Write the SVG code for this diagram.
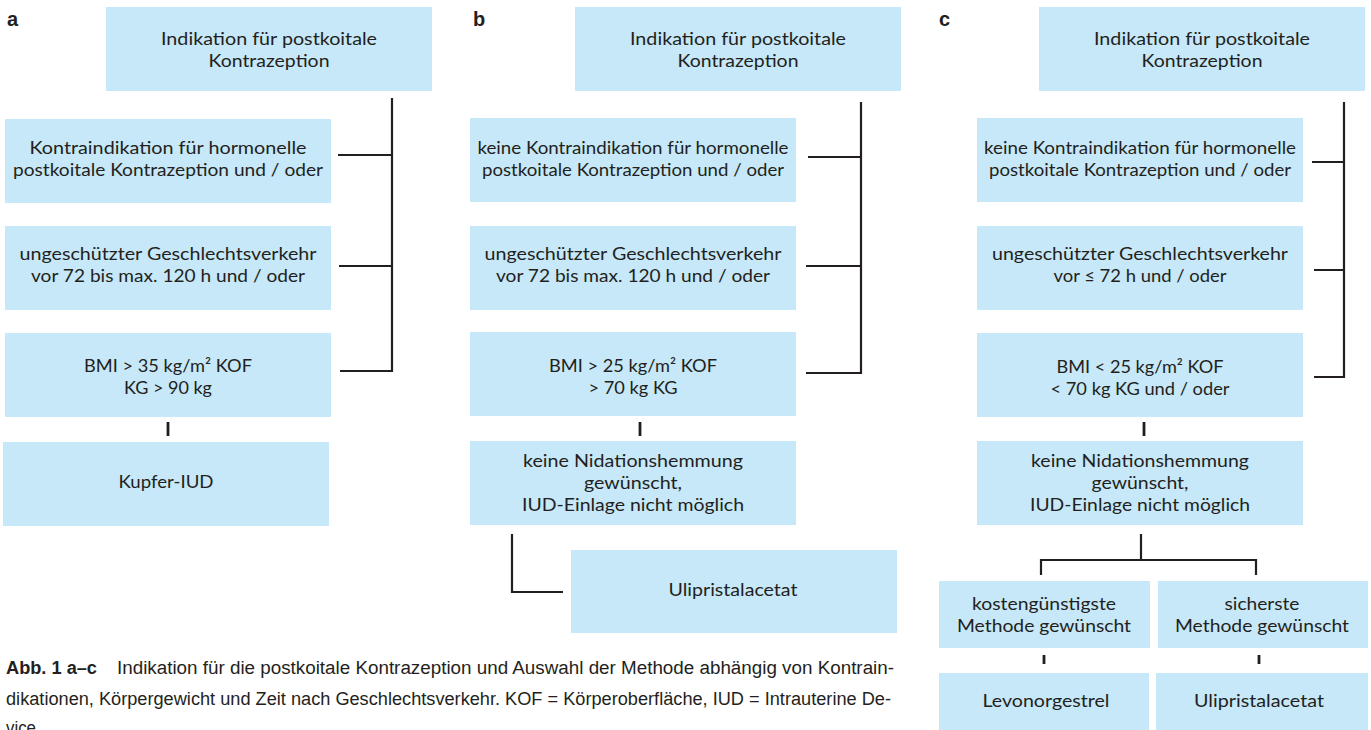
<svg xmlns="http://www.w3.org/2000/svg" width="1371" height="730" viewBox="0 0 1371 730">
<style>
.box{fill:#c6e8f8;}
.t{font-family:Lato,"Open Sans","Liberation Sans",sans-serif;font-size:17.5px;fill:#231f20;text-anchor:middle;}
.lbl{font-family:"Liberation Sans",sans-serif;font-size:20px;font-weight:bold;fill:#231f20;}
.cap{font-family:"Liberation Sans",sans-serif;font-size:18px;fill:#231f20;}
.capb{font-family:"Liberation Sans",sans-serif;font-size:18px;font-weight:bold;fill:#231f20;}
.ln{fill:none;stroke:#231f20;stroke-width:2.2;}
.tk{fill:none;stroke:#231f20;stroke-width:2.8;}
</style>
<rect width="1371" height="730" fill="#ffffff"/>
<text class="lbl" x="7" y="26">a</text>
<text class="lbl" x="473" y="26">b</text>
<text class="lbl" x="939" y="26">c</text>

<g id="connectors">
<path class="ln" d="M392,98 V371 H340 M338,155 H392 M339,266 H392"/>
<path class="tk" d="M168,422 V436"/>
<path class="ln" d="M861,102 V373 H806 M808,157 H861 M806,266 H861"/>
<path class="tk" d="M640,422 V436"/>
<path class="ln" d="M512,534 V592 H563"/>
<path class="ln" d="M1344,102 V377 H1314 M1312,162 H1344 M1314,270 H1344"/>
<path class="tk" d="M1144,422 V436"/>
<path class="ln" d="M1141,534 V560 M1041,575 V560 H1256 V575"/>
<path class="tk" d="M1044,655 V664 M1259,655 V664"/>
</g>

<g id="a-top"><rect class="box" x="106" y="7" width="326" height="84"/>
<text class="t" x="269" y="45" textLength="216" lengthAdjust="spacingAndGlyphs">Indikation für postkoitale</text>
<text class="t" x="269" y="67" textLength="121" lengthAdjust="spacingAndGlyphs">Kontrazeption</text></g>
<g id="a-kontra"><rect class="box" x="5" y="119" width="326" height="84"/>
<text class="t" x="168" y="154" textLength="277" lengthAdjust="spacingAndGlyphs">Kontraindikation für hormonelle</text>
<text class="t" x="168" y="176" textLength="310" lengthAdjust="spacingAndGlyphs">postkoitale Kontrazeption und / oder</text></g>
<g id="a-gv"><rect class="box" x="5" y="226" width="326" height="84"/>
<text class="t" x="168" y="260" textLength="297" lengthAdjust="spacingAndGlyphs">ungeschützter Geschlechtsverkehr</text>
<text class="t" x="168" y="282" textLength="274" lengthAdjust="spacingAndGlyphs">vor 72 bis max. 120 h und / oder</text></g>
<g id="a-bmi"><rect class="box" x="5" y="333" width="326" height="84"/>
<text class="t" x="168" y="372" textLength="168" lengthAdjust="spacingAndGlyphs">BMI &gt; 35 kg/m² KOF</text>
<text class="t" x="168" y="394" textLength="88" lengthAdjust="spacingAndGlyphs">KG &gt; 90 kg</text></g>
<g id="a-iud"><rect class="box" x="3" y="442" width="326" height="84"/>
<text class="t" x="166" y="488" textLength="95" lengthAdjust="spacingAndGlyphs">Kupfer-IUD</text></g>

<g id="b-top"><rect class="box" x="575" y="7" width="326" height="84"/>
<text class="t" x="738" y="45" textLength="216" lengthAdjust="spacingAndGlyphs">Indikation für postkoitale</text>
<text class="t" x="738" y="67" textLength="121" lengthAdjust="spacingAndGlyphs">Kontrazeption</text></g>
<g id="b-kontra"><rect class="box" x="470" y="118" width="326" height="84"/>
<text class="t" x="633" y="154" textLength="311" lengthAdjust="spacingAndGlyphs">keine Kontraindikation für hormonelle</text>
<text class="t" x="633" y="176" textLength="302" lengthAdjust="spacingAndGlyphs">postkoitale Kontrazeption und / oder</text></g>
<g id="b-gv"><rect class="box" x="470" y="226" width="326" height="84"/>
<text class="t" x="633" y="260" textLength="297" lengthAdjust="spacingAndGlyphs">ungeschützter Geschlechtsverkehr</text>
<text class="t" x="633" y="282" textLength="274" lengthAdjust="spacingAndGlyphs">vor 72 bis max. 120 h und / oder</text></g>
<g id="b-bmi"><rect class="box" x="470" y="332" width="326" height="84"/>
<text class="t" x="633" y="372" textLength="168" lengthAdjust="spacingAndGlyphs">BMI &gt; 25 kg/m² KOF</text>
<text class="t" x="633" y="394" textLength="89" lengthAdjust="spacingAndGlyphs">&gt; 70 kg KG</text></g>
<g id="b-nida"><rect class="box" x="470" y="441" width="326" height="84"/>
<text class="t" x="633" y="467" textLength="220" lengthAdjust="spacingAndGlyphs">keine Nidationshemmung</text>
<text class="t" x="633" y="489" textLength="98" lengthAdjust="spacingAndGlyphs">gewünscht,</text>
<text class="t" x="633" y="511" textLength="222" lengthAdjust="spacingAndGlyphs">IUD-Einlage nicht möglich</text></g>
<g id="b-upa"><rect class="box" x="571" y="550" width="326" height="83"/>
<text class="t" x="733" y="596" textLength="129" lengthAdjust="spacingAndGlyphs">Ulipristalacetat</text></g>

<g id="c-top"><rect class="box" x="1039" y="7" width="326" height="84"/>
<text class="t" x="1202" y="45" textLength="216" lengthAdjust="spacingAndGlyphs">Indikation für postkoitale</text>
<text class="t" x="1202" y="67" textLength="121" lengthAdjust="spacingAndGlyphs">Kontrazeption</text></g>
<g id="c-kontra"><rect class="box" x="977" y="118" width="326" height="84"/>
<text class="t" x="1140" y="154" textLength="312" lengthAdjust="spacingAndGlyphs">keine Kontraindikation für hormonelle</text>
<text class="t" x="1140" y="176" textLength="302" lengthAdjust="spacingAndGlyphs">postkoitale Kontrazeption und / oder</text></g>
<g id="c-gv"><rect class="box" x="977" y="226" width="326" height="84"/>
<text class="t" x="1140" y="260" textLength="296" lengthAdjust="spacingAndGlyphs">ungeschützter Geschlechtsverkehr</text>
<text class="t" x="1140" y="282" textLength="173" lengthAdjust="spacingAndGlyphs">vor ≤ 72 h und / oder</text></g>
<g id="c-bmi"><rect class="box" x="977" y="333" width="326" height="84"/>
<text class="t" x="1140" y="373" textLength="167" lengthAdjust="spacingAndGlyphs">BMI &lt; 25 kg/m² KOF</text>
<text class="t" x="1140" y="395" textLength="179" lengthAdjust="spacingAndGlyphs">&lt; 70 kg KG und / oder</text></g>
<g id="c-nida"><rect class="box" x="977" y="441" width="326" height="84"/>
<text class="t" x="1140" y="467" textLength="218" lengthAdjust="spacingAndGlyphs">keine Nidationshemmung</text>
<text class="t" x="1140" y="489" textLength="97" lengthAdjust="spacingAndGlyphs">gewünscht,</text>
<text class="t" x="1140" y="511" textLength="220" lengthAdjust="spacingAndGlyphs">IUD-Einlage nicht möglich</text></g>
<g id="c-kosten"><rect class="box" x="939" y="581" width="211" height="67"/>
<text class="t" x="1044" y="610" textLength="144" lengthAdjust="spacingAndGlyphs">kostengünstigste</text>
<text class="t" x="1044" y="632" textLength="174" lengthAdjust="spacingAndGlyphs">Methode gewünscht</text></g>
<g id="c-sicher"><rect class="box" x="1158" y="581" width="210" height="67"/>
<text class="t" x="1262" y="610" textLength="75" lengthAdjust="spacingAndGlyphs">sicherste</text>
<text class="t" x="1262" y="632" textLength="174" lengthAdjust="spacingAndGlyphs">Methode gewünscht</text></g>
<g id="c-lng"><rect class="box" x="939" y="673" width="210" height="57"/>
<text class="t" x="1046" y="707" textLength="127" lengthAdjust="spacingAndGlyphs">Levonorgestrel</text></g>
<g id="c-upa"><rect class="box" x="1156" y="673" width="212" height="57"/>
<text class="t" x="1259" y="707" textLength="130" lengthAdjust="spacingAndGlyphs">Ulipristalacetat</text></g>

<g id="caption">
<text class="capb" x="6" y="674" textLength="91" lengthAdjust="spacingAndGlyphs">Abb. 1 a–c</text>
<text class="cap" x="117" y="674" textLength="777" lengthAdjust="spacingAndGlyphs">Indikation für die postkoitale Kontrazeption und Auswahl der Methode abhängig von Kontrain-</text>
<text class="cap" x="6" y="705" textLength="885" lengthAdjust="spacingAndGlyphs">dikationen, Körpergewicht und Zeit nach Geschlechtsverkehr. KOF = Körperoberfläche, IUD = Intrauterine De-</text>
<text class="cap" x="6" y="734" textLength="30" lengthAdjust="spacingAndGlyphs">vice</text>
</g>
</svg>
